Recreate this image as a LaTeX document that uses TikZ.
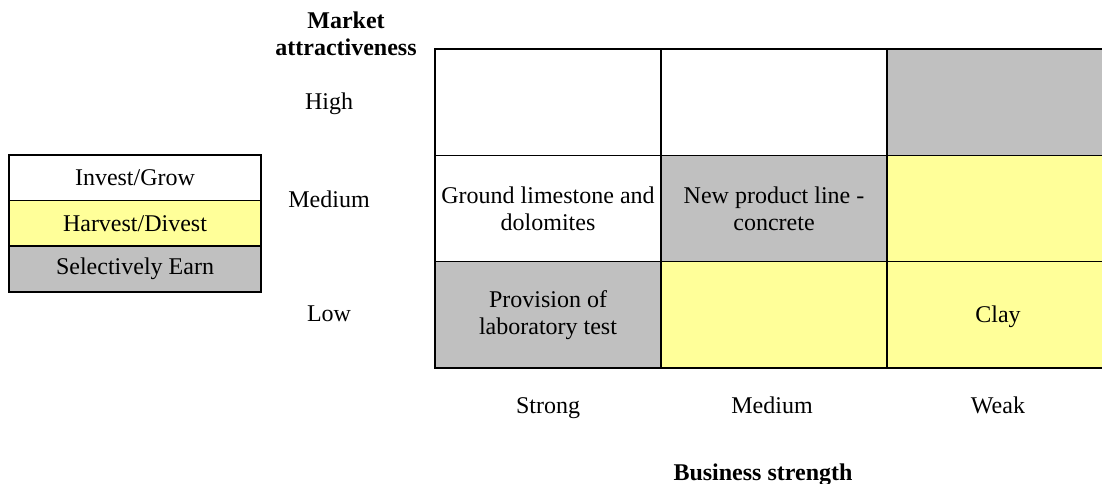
\documentclass[tikz,border=0pt]{standalone}
\usepackage{fontspec}
\setmainfont{Liberation Serif}
\definecolor{harvest}{HTML}{FFFF99}
\definecolor{selective}{HTML}{C0C0C0}
\begin{document}
\begin{tikzpicture}[x=1pt, y=-1pt, every node/.style={font=\fontsize{24}{27}\selectfont},
    cell/.style={draw, line width=1.5pt, minimum width=226pt, minimum height=106.3pt, align=center, inner sep=0pt},
    key/.style={draw, line width=1.5pt, minimum width=252pt, minimum height=45.7pt, inner sep=0pt},
    heading/.style={font=\fontsize{24}{27}\selectfont\bfseries, align=center}]
    \clip (0,0) rectangle (1102,484);
    
    % matrix cells: row/column/fill/text
    \foreach \r/\c/\col/\txt in {1/1/white/{}, 1/2/white/{}, 1/3/selective/{},
        2/1/white/{Ground limestone and\\dolomites}, 2/2/selective/{New product line -\\concrete}, 2/3/harvest/{},
        3/1/selective/{Provision of\\laboratory test}, 3/2/harvest/{}, 3/3/harvest/{}} {
      \node[cell, fill=\col] (c\r\c) at ({435+226*(\c-0.5)}, {49+106.3*(\r-0.5)}) {\txt};
    }
    \node (clay) at (998, 317) {Clay};
    
    % legend
    \node[key, fill=white] (grow) at (135, 178) {Invest/Grow};
    \node[key, fill=harvest] (divest) at (135, 223.5) {Harvest/Divest};
    \node[key, fill=selective] (earn) at (135, 269) {Selectively Earn};
    
    % axes
    \node (high) at (329, 104) {High};
    \node (medium) at (329, 199) {Medium};
    \node (low) at (329, 314) {Low};
    \node (strong) at (548, 408) {Strong};
    \node (mid) at (772, 405) {Medium};
    \node (weak) at (998, 405) {Weak};
    
    \node[heading] (attract) at (346, 34) {Market\\attractiveness};
    \node[heading] (strength) at (763, 475) {Business strength};
    \end{tikzpicture}
\end{document}
